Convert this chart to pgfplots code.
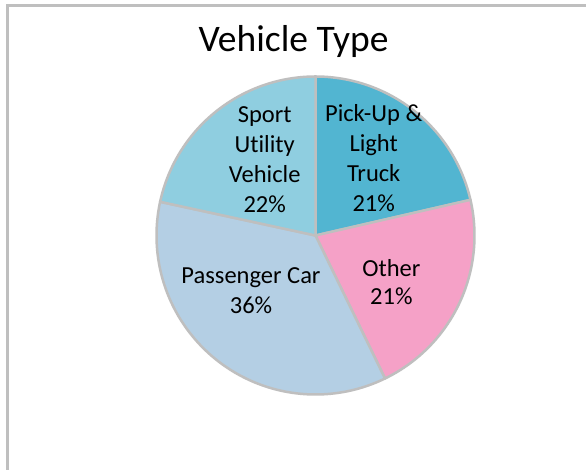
\documentclass[border=0pt]{standalone}
\usepackage{pgfplots}
\pgfplotsset{compat=1.18}
\usepackage{fontspec}
\setmainfont{Carlito}[Ligatures=NoCommon]
\definecolor{cPick}{RGB}{82,181,209}
\definecolor{cOther}{RGB}{245,161,199}
\definecolor{cPass}{RGB}{180,207,228}
\definecolor{cSUV}{RGB}{143,206,224}
\definecolor{cEdge}{RGB}{191,191,191}
\begin{document}
\begin{tikzpicture}
\useasboundingbox (0,0) rectangle (586pt,470pt);
\begin{axis}[at={(0,0)}, anchor=south west, scale only axis,
  width=586pt, height=470pt, xmin=0, xmax=586, ymin=0, ymax=470,
  hide axis, clip=false]
\fill[white] (axis cs:0,0) rectangle (axis cs:586,470);
\draw[line width=3pt, color=cEdge, line join=miter] (axis cs:7.5,-20) -- (axis cs:7.5,464.5) -- (axis cs:600,464.5);
% shares (%): Pick-Up & Light Truck 21.4, Other 21.4, Passenger Car 35.6, Sport Utility Vehicle 21.6
% slices start at 12 o'clock and run clockwise; angle = 90 - 3.6*cumulative share
\addplot[fill=cPick, draw=cEdge, line width=2.5pt, line join=round, domain=12.96:90, samples=80, variable=\t]
  ({315.5+159*cos(t)},{234.5+159*sin(t)}) -- (axis cs:315.5,234.5) -- cycle;
\addplot[fill=cOther, draw=cEdge, line width=2.5pt, line join=round, domain=-64.08:12.96, samples=80, variable=\t]
  ({315.5+159*cos(t)},{234.5+159*sin(t)}) -- (axis cs:315.5,234.5) -- cycle;
\addplot[fill=cPass, draw=cEdge, line width=2.5pt, line join=round, domain=-192.24:-64.08, samples=120, variable=\t]
  ({315.5+159*cos(t)},{234.5+159*sin(t)}) -- (axis cs:315.5,234.5) -- cycle;
\addplot[fill=cSUV, draw=cEdge, line width=2.5pt, line join=round, domain=-270:-192.24, samples=80, variable=\t]
  ({315.5+159*cos(t)},{234.5+159*sin(t)}) -- (axis cs:315.5,234.5) -- cycle;
% title
\node[anchor=base, inner sep=0pt, font=\fontsize{37.5}{45}\selectfont] at (axis cs:293.5,418) {Vehicle Type};
% labels
\tikzset{lbl/.style={anchor=base, inner sep=0pt, font=\fontsize{24.5}{29}\selectfont}}
\node[lbl] at (axis cs:373.7,348) {Pick-Up \&};
\node[lbl] at (axis cs:373.7,318) {Light};
\node[lbl] at (axis cs:373.7,288) {Truck};
\node[lbl] at (axis cs:373.7,258) {21\%};
\node[lbl] at (axis cs:264.7,347) {Sport};
\node[lbl] at (axis cs:264.7,317) {Utility};
\node[lbl] at (axis cs:264.7,287) {Vehicle};
\node[lbl] at (axis cs:264.7,257) {22\%};
\node[lbl] at (axis cs:251,186.7) {Passenger Car};
\node[lbl] at (axis cs:251,156.7) {36\%};
\node[lbl] at (axis cs:391.4,193.3) {Other};
\node[lbl] at (axis cs:391.4,165) {21\%};
\end{axis}
\end{tikzpicture}
\end{document}
